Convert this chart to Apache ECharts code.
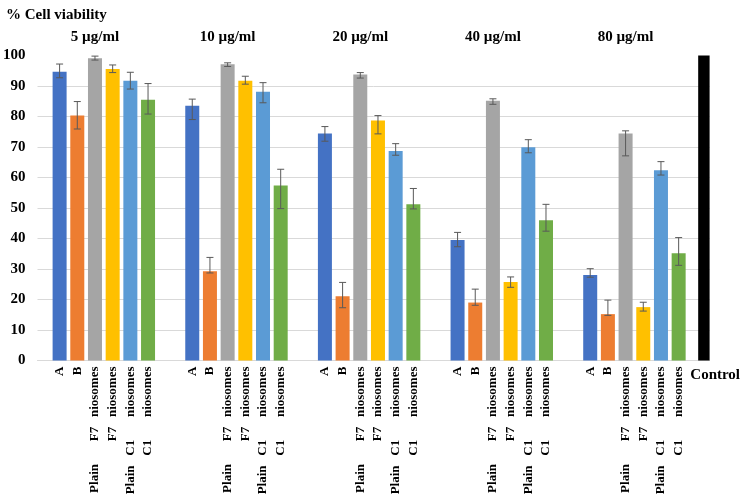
<!DOCTYPE html>
<html>
<head>
<meta charset="utf-8">
<script src="https://cdn.jsdelivr.net/npm/echarts@6/dist/echarts.min.js"></script>
<style>html,body{margin:0;padding:0;background:#fff}#c{width:752px;height:504px}</style>
</head>
<body>
<div id="c"></div>
<script>
// ---- data ----
const groupNames = ['5 µg/ml', '10 µg/ml', '20 µg/ml', '40 µg/ml', '80 µg/ml'];
const formulations = ['A', 'B',
  'Plain\u00a0\u00a0\u00a0\u00a0\u00a0\u00a0\u00a0F7\u00a0\u00a0\u00a0niosomes',
  'F7\u00a0\u00a0\u00a0niosomes',
  'Plain\u00a0\u00a0\u00a0C1\u00a0\u00a0\u00a0\u00a0\u00a0\u00a0\u00a0niosomes',
  'C1\u00a0\u00a0\u00a0\u00a0\u00a0\u00a0\u00a0niosomes'];
const controlLabel = 'Control';
const controlValue = 100;

const values5  = [94.7, 80.3, 99.1, 95.6, 91.7, 85.5];
const values10 = [83.5, 29.3, 97.1, 91.7, 88.1, 57.4];
const values20 = [74.4, 21.1, 93.8, 78.7, 68.7, 51.2];
const values40 = [39.5, 19.0, 85.2, 25.7, 69.9, 46.0];
const values80 = [28.0, 15.2, 74.4, 17.5, 62.4, 35.2];

const errUp5    = [2.5, 4.6, 0.7, 1.3, 2.8, 5.3];
const errDown5  = [2.0, 4.4, 0.6, 1.2, 2.7, 4.7];
const errUp10   = [2.2, 4.5, 0.5, 1.5, 3.0, 5.3];
const errDown10 = [4.5, 0.6, 0.7, 1.1, 3.6, 7.6];
const errUp20   = [2.3, 4.5, 0.6, 1.6, 2.4, 5.2];
const errDown20 = [2.5, 3.8, 1.2, 4.4, 1.4, 1.5];
const errUp40   = [2.5, 4.4, 0.6, 1.7, 2.5, 5.2];
const errDown40 = [2.2, 0.9, 1.2, 1.7, 1.8, 3.6];
const errUp80   = [2.1, 4.6, 0.9, 1.6, 2.8, 5.1];
const errDown80 = [0.7, 0.4, 7.3, 1.3, 1.6, 4.0];

const yTicks = [0, 10, 20, 30, 40, 50, 60, 70, 80, 90, 100];

// ---- styles ----
const colors = ['#4472C4', '#ED7D31', '#A5A5A5', '#FFC000', '#5B9BD5', '#70AD47'];
const controlColor = '#000000';
const FONT = "'Liberation Serif', 'Times New Roman', serif";

// ---- build category layout (half-slot categories) ----
const allValues = [values5, values10, values20, values40, values80];
const allUp = [errUp5, errUp10, errUp20, errUp40, errUp80];
const allDown = [errDown5, errDown10, errDown20, errDown40, errDown80];
const LEAD = 2, GROUP_STEP = 15, BAR_STEP = 2, CONTROL_GAP = 3;
const lastBar = LEAD + GROUP_STEP * (groupNames.length - 1) + BAR_STEP * (formulations.length - 1);
const controlIdx = lastBar + CONTROL_GAP;
const N = controlIdx + 1;

const cats = new Array(N).fill('');
const topCats = new Array(N).fill('');
const ctrlCats = new Array(N).fill('');
const barData = new Array(N).fill(null);
const errData = [];
for (let g = 0; g < groupNames.length; g++) {
  const start = LEAD + GROUP_STEP * g;
  topCats[start + BAR_STEP * 2] = groupNames[g];
  for (let j = 0; j < formulations.length; j++) {
    const idx = start + BAR_STEP * j;
    cats[idx] = formulations[j];
    const v = allValues[g][j];
    barData[idx] = { value: v, itemStyle: { color: colors[j] } };
    errData.push([idx, v - allDown[g][j], v + allUp[g][j]]);
  }
}
barData[controlIdx] = { value: controlValue, itemStyle: { color: controlColor } };
ctrlCats[controlIdx] = controlLabel;
const catIds = cats.map((_, i) => String(i));

const chart = echarts.init(document.getElementById('c'), null, { renderer: 'canvas' });
const gridColors = yTicks.map((t, i) => i === yTicks.length - 1 ? 'rgba(0,0,0,0)' : '#d9d9d9');

chart.setOption({
  animation: false,
  backgroundColor: '#ffffff',
  title: {
    text: '% Cell viability', left: 1, top: 3,
    textStyle: { fontFamily: FONT, fontWeight: 'bold', fontSize: 15, color: '#000' }
  },
  grid: { left: 36.6, right: 42.4, top: 55.5, bottom: 143.5, containLabel: false },
  xAxis: [
    {
      type: 'category', data: catIds, position: 'bottom',
      axisLine: { show: true, lineStyle: { color: '#d9d9d9', width: 1 } },
      axisTick: { show: false },
      axisLabel: {
        interval: 0, rotate: 90, margin: 6,
        formatter: (v) => cats[+v],
        fontFamily: FONT, fontWeight: 'bold', fontSize: 13, color: '#000'
      }
    },
    {
      type: 'category', data: catIds, position: 'top',
      axisLine: { show: false }, axisTick: { show: false },
      axisLabel: {
        interval: 0, margin: 11,
        formatter: (v) => topCats[+v],
        fontFamily: FONT, fontWeight: 'bold', fontSize: 15, color: '#000'
      }
    },
    {
      type: 'category', data: catIds, position: 'bottom', gridIndex: 0,
      axisLine: { show: false }, axisTick: { show: false },
      axisLabel: {
        interval: 0, margin: 7,
        formatter: (v) => ctrlCats[+v] ? '{c|' + ctrlCats[+v] + '}' : '',
        rich: { c: { fontFamily: FONT, fontWeight: 'bold', fontSize: 15, color: '#000', padding: [0, 0, 0, 20] } }
      }
    }
  ],
  yAxis: {
    type: 'value', min: 0, max: 100, interval: 10,
    axisLine: { show: false }, axisTick: { show: false },
    splitLine: { show: true, lineStyle: { color: gridColors, width: 1 } },
    axisLabel: {
      margin: 12, formatter: (v) => yTicks.includes(v) ? String(v) : '',
      fontFamily: FONT, fontWeight: 'bold', fontSize: 15, color: '#000'
    }
  },
  series: [
    {
      type: 'bar', xAxisIndex: 0, data: barData, barWidth: 14,
      barGap: '-100%'
    },
    {
      type: 'custom', xAxisIndex: 0, data: errData, z: 10,
      encode: { x: 0, y: [1, 2] },
      renderItem: function (params, api) {
        const x = api.value(0);
        const lo = api.coord([x, api.value(1)]);
        const hi = api.coord([x, api.value(2)]);
        const hw = 3.5;
        const style = { stroke: '#595959', lineWidth: 1 };
        return {
          type: 'group',
          children: [
            { type: 'line', shape: { x1: lo[0], y1: lo[1], x2: hi[0], y2: hi[1] }, style },
            { type: 'line', shape: { x1: lo[0] - hw, y1: lo[1], x2: lo[0] + hw, y2: lo[1] }, style },
            { type: 'line', shape: { x1: hi[0] - hw, y1: hi[1], x2: hi[0] + hw, y2: hi[1] }, style }
          ]
        };
      }
    }
  ]
});
</script>
</body>
</html>
